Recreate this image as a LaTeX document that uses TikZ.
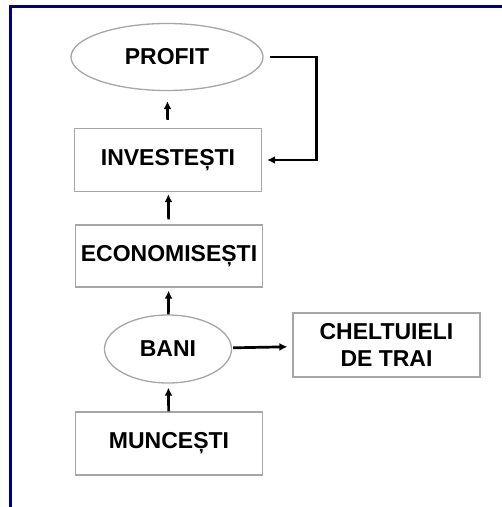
\documentclass[tikz,border=0pt]{standalone}
\usepackage{fontspec}
\setmainfont{Liberation Sans}
\usetikzlibrary{arrows.meta, shapes.geometric}
\definecolor{framecol}{RGB}{0,0,128}
\begin{document}
\begin{tikzpicture}[x = 1pt, y = -1pt,
    box/.style = {draw = gray!70, line width = 1.3pt, minimum width = 187pt, minimum height = 63pt, inner sep = 0pt, align = center, font = \fontsize{23}{27}\selectfont\bfseries},
    oval/.style = {box, ellipse},
    link/.style = {line width = 2.7pt, ->, >={Latex[length = 8pt, width = 8pt]}}]
  \useasboundingbox (0,0) rectangle (502,507);
  \draw[framecol, line width = 3pt] (502,6.5) -| (10.5,507);
  \node[oval, minimum width = 192pt, minimum height = 67pt] (profit) at (167,57) {PROFIT};
  \node[box] (invest) at (168,160) {INVESTEȘTI};
  \node[box, minimum height = 62pt] (econ) at (169,256) {ECONOMISEȘTI};
  \node[oval, minimum width = 127pt, minimum height = 68pt] (bani) at (168,349) {BANI};
  \node[box, minimum height = 64pt] (chelt) at (386.5,345) {CHELTUIELI\\DE TRAI};
  \node[box] (munc) at (169,443.5) {MUNCEȘTI};
  \path[link] (invest) edge[shorten < = 8pt, shorten > = 10pt] (profit)
              (econ) edge[shorten < = 5pt, shorten > = 2pt] (invest)
              (bani) edge[shorten > = 3pt] (econ)
              (munc) edge[shorten > = 4pt] (bani)
              (bani) edge[shorten < = 1pt, shorten > = 5pt] (chelt);
  \draw[link, shorten < = 6pt, shorten > = 5pt] (profit.east) -- ++(53,0) |- (invest.east);
\end{tikzpicture}
\end{document}
